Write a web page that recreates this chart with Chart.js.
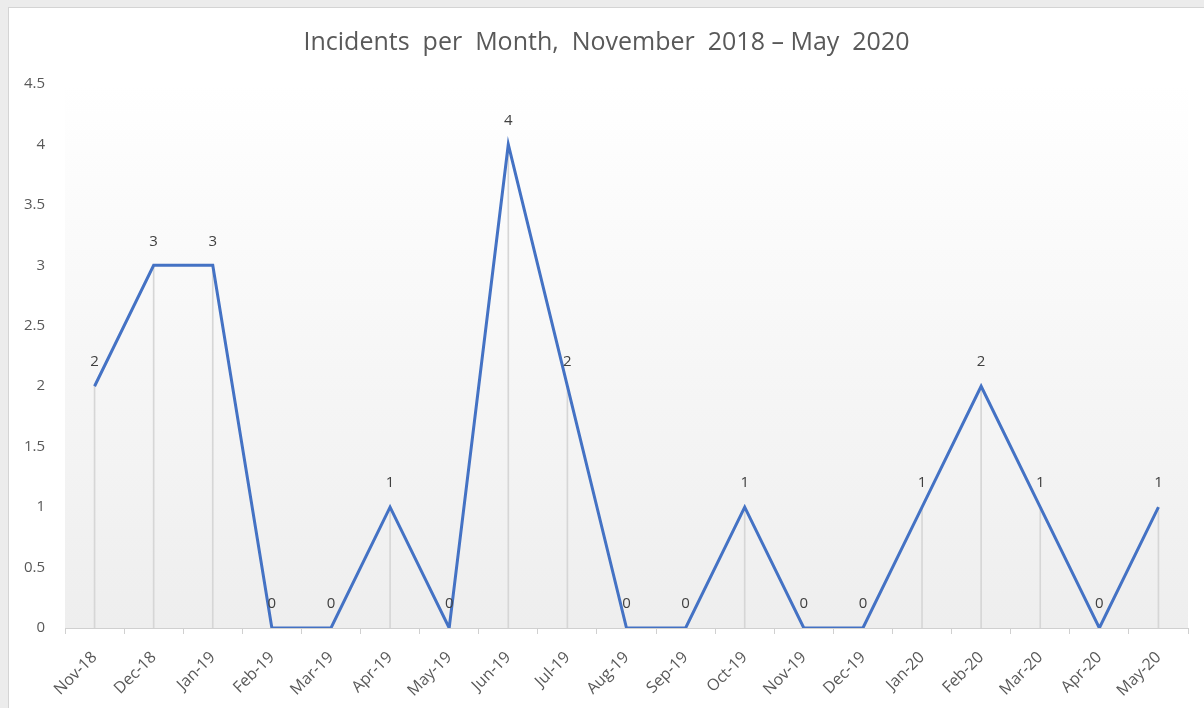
<!DOCTYPE html>
<html>
<head>
<meta charset="utf-8">
<script src="https://cdn.jsdelivr.net/npm/chart.js@4.4.1/dist/chart.umd.min.js"></script>
<style>
  html, body { margin: 0; padding: 0; background: #ececec; overflow: hidden; }
  #card {
    position: absolute; left: 8px; top: 7px;
    width: 1196px; height: 701px;
    background: #ffffff;
    border-left: 1px solid #d4d4d4; border-top: 1px solid #d4d4d4;
    box-sizing: border-box;
  }
</style>
</head>
<body>
<div id="card"><canvas id="incidentsChart"></canvas></div>
<script>
// dati
const months = ['Nov-18', 'Dec-18', 'Jan-19', 'Feb-19', 'Mar-19', 'Apr-19', 'May-19', 'Jun-19',
    'Jul-19', 'Aug-19', 'Sep-19', 'Oct-19', 'Nov-19', 'Dec-19', 'Jan-20', 'Feb-20', 'Mar-20',
    'Apr-20', 'May-20'];
const incidents = [2, 3, 3, 0, 0, 1, 0, 4, 2, 0, 0, 1, 0, 0, 1, 2, 1, 0, 1];
const yTicksMax = 4.5;
const yTicksStep = 0.5;

const textColor = '#595959';
const fontFamily = '"Open Sans", "Noto Sans", sans-serif';

// Sfondo sfumato dell'area del grafico
const plotBackground = {
    id: 'plotBackground',
    beforeDraw(chart) {
        const { ctx, chartArea: a } = chart;
        const g = ctx.createLinearGradient(0, a.top, 0, a.bottom);
        g.addColorStop(0, '#ffffff');
        g.addColorStop(1, '#eeeeee');
        ctx.save();
        ctx.fillStyle = g;
        ctx.fillRect(a.left, a.top, a.right - a.left, a.bottom - a.top);
        ctx.restore();
    }
};

// Etichette dei valori sopra i punti
const valueLabels = {
    id: 'valueLabels',
    afterDatasetsDraw(chart) {
        const ctx = chart.ctx;
        const meta = chart.getDatasetMeta(0);
        const values = chart.data.datasets[0].data;
        ctx.save();
        ctx.font = '15px ' + fontFamily;
        ctx.fillStyle = '#404040';
        ctx.textAlign = 'center';
        ctx.textBaseline = 'middle';
        meta.data.forEach((pt, i) => {
            ctx.fillText(String(values[i]), pt.x, pt.y - 24);
        });
        ctx.restore();
    }
};

const ctx = document.getElementById('incidentsChart').getContext('2d');
new Chart(ctx, {
    data: {
        labels: months,
        datasets: [
            {
                type: 'line',
                label: 'Incidents',
                data: incidents,
                borderColor: '#4472C4',
                borderWidth: 3,
                pointRadius: 0,
                tension: 0,
                fill: false,
                order: 0
            },
            {
                // linee verticali di riferimento (drop lines)
                type: 'bar',
                label: 'drop',
                data: incidents,
                backgroundColor: '#d6d6d6',
                barThickness: 1,
                order: 1
            }
        ]
    },
    options: {
        responsive: true,
        maintainAspectRatio: false,
        animation: false,
        layout: { padding: 0 },
        scales: {
            x: {
                offset: true,
                grid: {
                    display: true,
                    offset: true,
                    drawOnChartArea: false,
                    drawTicks: true,
                    tickLength: 6,
                    color: '#d0d0d0'
                },
                border: { display: true, color: '#d0d0d0', width: 1 },
                ticks: {
                    color: textColor,
                    font: { family: fontFamily, size: 16 },
                    minRotation: 45,
                    maxRotation: 45,
                    autoSkip: false,
                    padding: 14
                },
                afterFit(scale) { scale.height = 80; }
            },
            y: {
                min: 0,
                max: yTicksMax,
                grid: { display: false, drawTicks: false },
                border: { display: false },
                ticks: {
                    stepSize: yTicksStep,
                    color: textColor,
                    font: { family: fontFamily, size: 15 },
                    padding: 20,
                    callback: (v) => String(v)
                },
                afterFit(scale) { scale.width = 56; }
            },
            // asse vuoto a destra, solo per il margine
            yRight: {
                type: 'linear',
                position: 'right',
                grid: { display: false, drawTicks: false },
                border: { display: false },
                ticks: { display: false },
                afterFit(scale) { scale.width = 16; }
            }
        },
        plugins: {
            legend: { display: false },
            tooltip: { enabled: false },
            title: {
                display: true,
                text: 'Incidents  per  Month,  November  2018 – May  2020',
                color: textColor,
                font: { family: fontFamily, size: 25, weight: 'normal' },
                padding: { top: 20, bottom: 26 }
            }
        }
    },
    plugins: [plotBackground, valueLabels]
});
</script>
</body>
</html>
